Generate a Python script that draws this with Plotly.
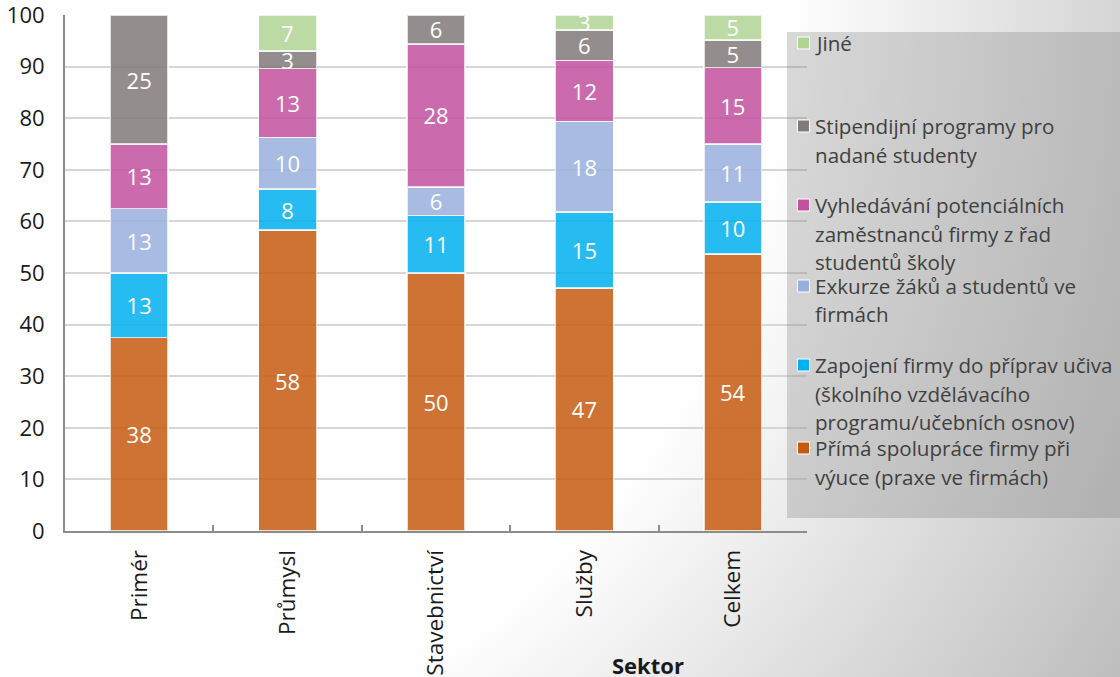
import base64
import plotly.graph_objects as go

# ---------------- data ----------------
categories = ["Primér", "Průmysl", "Stavebnictví", "Služby", "Celkem"]

prima_spoluprace = [37.5, 58.3, 50.0, 47.1, 53.7]
zapojeni_firmy = [12.5, 8.0, 11.1, 14.7, 10.1]
exkurze = [12.5, 10.0, 5.6, 17.6, 11.2]
vyhledavani = [12.5, 13.3, 27.7, 11.8, 14.8]
stipendia = [25.0, 3.4, 5.6, 5.9, 5.4]
jine = [None, 7.0, None, 2.9, 4.8]

y_ticks = [0, 10, 20, 30, 40, 50, 60, 70, 80, 90, 100]
x_title = "Sektor"

# legend lines (top to bottom)
legend_jine = ["Jiné"]
legend_stip = ["Stipendijní programy pro", "nadané studenty"]
legend_vyhl = ["Vyhledávání potenciálních", "zaměstnanců firmy z řad", "studentů školy"]
legend_exk = ["Exkurze žáků a studentů ve", "firmách"]
legend_zap = ["Zapojení firmy do příprav učiva", "(školního vzdělávacího", "programu/učebních osnov)"]
legend_prima = ["Přímá spolupráce firmy při", "výuce (praxe ve firmách)"]

# ---------------- styles ----------------
FONT = "Open Sans"
W, H = 1120, 677
ML, MR, MT, MB = 65, 313, 15, 146
PW, PH = W - ML - MR, H - MT - MB

c_prima = "rgba(197,90,17,0.85)"
c_zap = "rgba(0,176,240,0.85)"
c_exk = "rgba(152,175,222,0.85)"
c_vyhl = "rgba(194,81,160,0.85)"
c_stip = "rgba(128,122,121,0.85)"
c_jine = "rgba(176,212,148,0.85)"


def px_x(px):
    return (px - ML) / PW


def px_y(py):
    return (H - MB - py) / PH


series = [
    (legend_prima, prima_spoluprace, c_prima),
    (legend_zap, zapojeni_firmy, c_zap),
    (legend_exk, exkurze, c_exk),
    (legend_vyhl, vyhledavani, c_vyhl),
    (legend_stip, stipendia, c_stip),
    (legend_jine, jine, c_jine),
]

fig = go.Figure()
for lines, vals, col in series:
    fig.add_trace(go.Bar(
        x=categories, y=vals, name=" ".join(lines),
        marker=dict(color=col, line=dict(color="rgba(255,255,255,0.75)", width=1.5)),
        texttemplate="%{y:.0f}", textposition="inside", insidetextanchor="middle",
        textangle=0, textfont=dict(family=FONT, size=22, color="white"),
        showlegend=False, hoverinfo="skip",
    ))

# background gradient (radial from top-left corner)
svg = f'''<svg xmlns="http://www.w3.org/2000/svg" width="{W}" height="{H}" viewBox="0 0 {W} {H}" preserveAspectRatio="none">
<defs><radialGradient id="g" gradientUnits="userSpaceOnUse" cx="0" cy="0" r="1310">
<stop offset="0" stop-color="#ffffff"/><stop offset="0.6" stop-color="#ffffff"/>
<stop offset="1" stop-color="#bdbdbd"/></radialGradient></defs>
<rect x="0" y="0" width="{W}" height="{H}" fill="url(#g)"/></svg>'''
src = "data:image/svg+xml;base64," + base64.b64encode(svg.encode("utf-8")).decode("ascii")

shapes = [
    dict(type="rect", xref="paper", yref="paper",
         x0=px_x(787), x1=px_x(1121), y0=px_y(518), y1=px_y(32),
         fillcolor="rgba(120,120,120,0.28)", line=dict(width=0), layer="above"),
]
annotations = []

legend_items = [
    (legend_jine, c_jine, 43),
    (legend_stip, c_stip, 126),
    (legend_vyhl, c_vyhl, 205),
    (legend_exk, c_exk, 286),
    (legend_zap, c_zap, 365),
    (legend_prima, c_prima, 448),
]
LINE = 28.5
for lines, col, y0 in legend_items:
    shapes.append(dict(type="rect", xref="paper", yref="paper",
                       x0=px_x(797.5), x1=px_x(809.5), y0=px_y(y0 + 6), y1=px_y(y0 - 6),
                       fillcolor=col.replace("0.85", "1"), line=dict(color="white", width=1),
                       layer="above"))
    for i, t in enumerate(lines):
        annotations.append(dict(xref="paper", yref="paper", x=px_x(813), y=px_y(y0 + i * LINE),
                                xanchor="left", yanchor="middle", text=t, showarrow=False,
                                font=dict(family=FONT, size=20.6, color="#404040")))

annotations.append(dict(xref="paper", yref="paper", x=px_x(648), y=px_y(648),
                        xanchor="center", yanchor="top", text=f"<b>{x_title}</b>",
                        showarrow=False, font=dict(family=FONT, size=22, color="#1a1a1a")))

fig.update_layout(
    width=W, height=H,
    margin=dict(l=ML, r=MR, t=MT, b=MB, autoexpand=False),
    barmode="stack", bargap=0.61,
    paper_bgcolor="white", plot_bgcolor="rgba(0,0,0,0)",
    uniformtext=dict(mode="show", minsize=22),
    font=dict(family=FONT, size=22, color="#1a1a1a"),
    images=[dict(source=src, xref="paper", yref="paper",
                 x=-ML / PW, y=1 + MT / PH, sizex=W / PW, sizey=H / PH,
                 xanchor="left", yanchor="top", sizing="stretch", layer="below")],
    shapes=shapes, annotations=annotations,
    xaxis=dict(type="category", showline=True, linecolor="#8c8c8c", linewidth=2,
               ticks="inside", tickson="boundaries", ticklen=6, tickcolor="#8c8c8c",
               tickwidth=1.5, tickangle=-90, ticklabelstandoff=8,
               tickfont=dict(family=FONT, size=22.5, color="#1a1a1a"), showgrid=False),
    yaxis=dict(range=[0, 100], tickvals=y_ticks, showline=True, linecolor="#8c8c8c",
               linewidth=2, showgrid=True, gridcolor="#d6d6d6", gridwidth=1.5,
               zeroline=False, ticks="", ticklabelstandoff=14, ticklabeloverflow="allow",
               tickfont=dict(family=FONT, size=22, color="#1a1a1a")),
)

fig.write_html("out.html", config={"displayModeBar": False},
               post_script="document.body.style.margin='0';document.body.style.padding='0';"
                           "document.documentElement.style.overflow='hidden';")
